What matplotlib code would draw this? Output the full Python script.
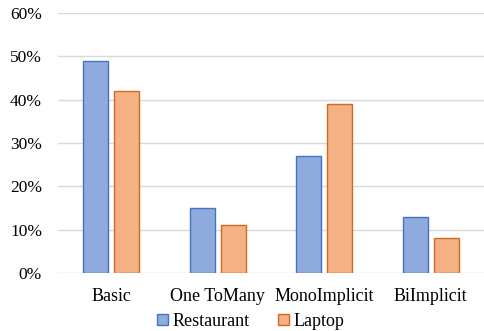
import matplotlib.pyplot as plt
import numpy as np

categories = ['Basic', 'One ToMany', 'MonoImplicit', 'BiImplicit']
restaurant = [49, 15, 27, 13]
laptop = [42, 11, 39, 8]
yticks = [0, 10, 20, 30, 40, 50, 60]

font = 'Liberation Serif'
fs = 13

fig = plt.figure(figsize=(4.84, 3.31), dpi=100)
ax = fig.add_axes([0.12, 0.175, 0.88, 0.786])

x = np.arange(len(categories))
w = 0.235
ax.bar(x - 0.145, restaurant, w, color='#8faadc', edgecolor='#4472c4', linewidth=1.0, label='Restaurant', zorder=3)
ax.bar(x + 0.145, laptop, w, color='#f4b183', edgecolor='#d2691e', linewidth=1.0, label='Laptop', zorder=3)

ax.set_xlim(-0.5, len(categories) - 0.5)
ax.set_ylim(0, 60)
ax.set_yticks(yticks)
ax.set_yticklabels(['{}%'.format(v) for v in yticks], family=font, fontsize=12.5)
ax.set_xticks(x)
ax.set_xticklabels(categories, family=font, fontsize=fs)
ax.tick_params(length=0)
ax.tick_params(axis='y', pad=11.5)
ax.tick_params(axis='x', pad=11)
ax.grid(axis='y', color='#d9d9d9', linewidth=1.0, zorder=0)
for s in ax.spines.values():
    s.set_visible(False)

ax.legend(loc='upper center', bbox_to_anchor=(0.452, -0.125), ncol=2, frameon=False,
          handlelength=0.6, handleheight=0.6, handletextpad=0.25, columnspacing=1.6,
          borderaxespad=0, prop={'family': font, 'size': fs})

fig.savefig('out.png', dpi=100)
